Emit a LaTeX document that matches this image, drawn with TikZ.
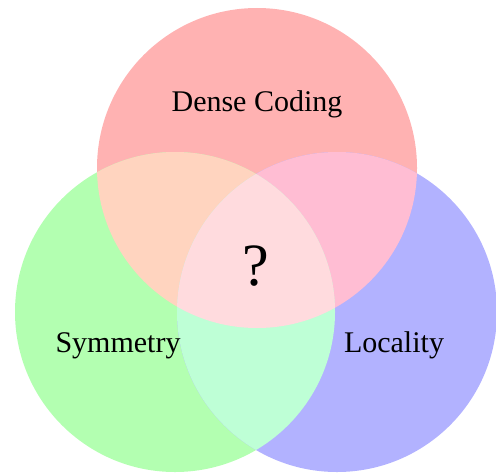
\documentclass[tikz,border=0pt]{standalone}
\usepackage{fontspec}
\setmainfont{Liberation Serif}
\usepackage{tikz}
\usetikzlibrary{positioning}
\definecolor{rcol}{RGB}{255,178,178}
\definecolor{gcol}{RGB}{179,255,177}
\definecolor{bcol}{RGB}{178,178,255}
\definecolor{rgcol}{RGB}{255,212,191}
\definecolor{rbcol}{RGB}{255,189,211}
\definecolor{gbcol}{RGB}{190,255,214}
\definecolor{rgbcol}{RGB}{255,219,222}
\newcommand{\rad}{160}

\begin{document}
\begin{tikzpicture}[x=0.5pt,y=0.5pt,
  lbl/.style={anchor=base,inner sep=0pt,font=\fontsize{15}{18}\selectfont}]
\useasboundingbox (0,0) rectangle (496,472);
\coordinate (R) at (257,304);
\coordinate (G) at (175,160);
\coordinate (B) at (337,160);
% ---- single sets ----
\fill[rcol] (R) circle (\rad);
\fill[gcol] (G) circle (\rad);
\fill[bcol] (B) circle (\rad);
% ---- pairwise overlaps ----
\begin{scope}
\clip (R) circle (\rad);
\fill[rgcol] (G) circle (\rad);
\fill[rbcol] (B) circle (\rad);
\end{scope}
\begin{scope}
\clip (G) circle (\rad);
\fill[gbcol] (B) circle (\rad);
\end{scope}
% ---- all three ----
\begin{scope}
\clip (R) circle (\rad);
\clip (G) circle (\rad);
\fill[rgbcol] (B) circle (\rad);
\end{scope}
% ---- labels ----
\node[lbl] (dense) at (257,361) {Dense Coding};
\node[lbl] (sym) at (118,120) {Symmetry};
\node[lbl] (loc) at (394,120) {Locality};
\node[lbl,font=\fontsize{30}{34}\selectfont] (q) at (256,187) {?};
\end{tikzpicture}
\end{document}
